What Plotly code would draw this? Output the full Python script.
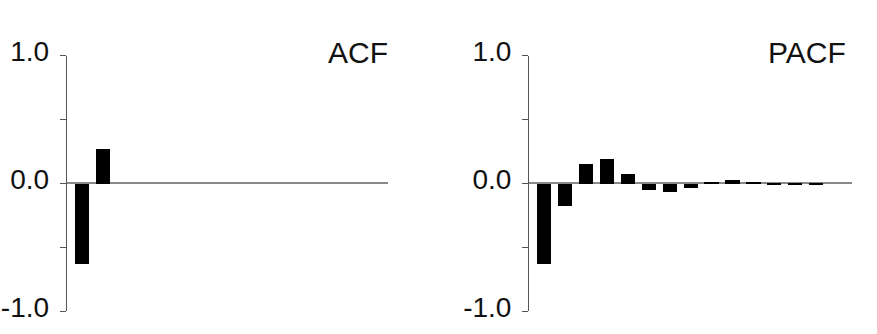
import plotly.graph_objects as go

W, H = 877, 334

acf_lags = [1, 2]
acf_values = [-0.625, 0.273]

pacf_lags = list(range(1, 15))
pacf_values = [-0.625, -0.177, 0.151, 0.192, 0.075, -0.047, -0.065, -0.034,
               0.012, 0.026, 0.010, -0.008, -0.013, -0.006]

y_tickvals = [-1.0, -0.5, 0.0, 0.5, 1.0]
y_ticktext = ["-1.0", "", "0.0", "", "1.0"]

def px_x(p):
    return p / W

def px_y(p):
    return 1 - p / H

fig = go.Figure()
fig.add_trace(go.Bar(x=acf_lags, y=acf_values, width=0.68,
                     marker=dict(color="black", line=dict(width=0)),
                     xaxis="x", yaxis="y", showlegend=False))
fig.add_trace(go.Bar(x=pacf_lags, y=pacf_values, width=0.68,
                     marker=dict(color="black", line=dict(width=0)),
                     xaxis="x2", yaxis="y2", showlegend=False))

font_family = "Arial, Liberation Sans, sans-serif"
ydom = [px_y(311), px_y(55.5)]

yax = dict(range=[-1, 1], domain=ydom, tickvals=y_tickvals, ticktext=y_ticktext,
           ticks="outside", ticklen=6, tickwidth=1, tickcolor="#555",
           showline=True, linecolor="#555", linewidth=1,
           showgrid=False, zeroline=True, zerolinecolor="#8a8a8a", zerolinewidth=1.5,
           tickfont=dict(family=font_family, size=28, color="#111"),
           ticklabelstandoff=5, ticklabelshift=-4, automargin=False, fixedrange=True)
xax = dict(range=[0.27, 15.7], showline=False, showgrid=False, zeroline=False,
           showticklabels=False, ticks="", automargin=False, fixedrange=True)

fig.update_layout(
    width=W, height=H,
    margin=dict(l=0, r=0, t=0, b=0),
    paper_bgcolor="white", plot_bgcolor="white",
    bargap=0,
    xaxis=dict(xax, domain=[px_x(66.7), px_x(388.3)], anchor="y"),
    yaxis=dict(yax, anchor="x"),
    xaxis2=dict(xax, domain=[px_x(529), px_x(851.7)], anchor="y2"),
    yaxis2=dict(yax, anchor="x2"),
    annotations=[
        dict(text="ACF", x=px_x(390), y=px_y(52.5), xref="paper", yref="paper",
             xanchor="right", yanchor="middle", showarrow=False,
             font=dict(family=font_family, size=30, color="#111")),
        dict(text="PACF", x=px_x(848), y=px_y(52.5), xref="paper", yref="paper",
             xanchor="right", yanchor="middle", showarrow=False,
             font=dict(family=font_family, size=30, color="#111")),
    ],
)

fig.write_html("out.html", config={"displayModeBar": False},
               post_script="document.body.style.margin='0';document.body.style.overflow='hidden';")
